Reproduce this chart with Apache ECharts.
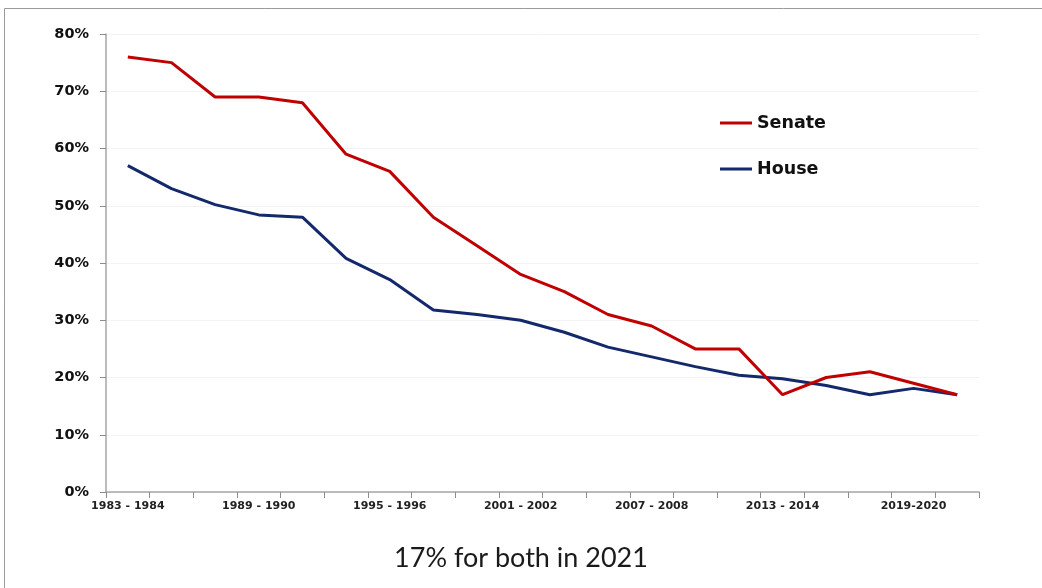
<!DOCTYPE html>
<html>
<head>
<meta charset="utf-8">
<title>Senate and House</title>
<script src="https://cdn.jsdelivr.net/npm/echarts@6/dist/echarts.min.js"></script>
<style>
  html, body { margin: 0; padding: 0; background: #fff; }
  #chart { width: 1042px; height: 588px; }
</style>
</head>
<body>
<div id="chart"></div>
<script>
// two-year congress sessions, 1983-1984 through 2021-2022
const sessions = [
  "1983 - 1984", "1985 - 1986", "1987 - 1988", "1989 - 1990", "1991 - 1992",
  "1993 - 1994", "1995 - 1996", "1997 - 1998", "1999 - 2000", "2001 - 2002",
  "2003 - 2004", "2005 - 2006", "2007 - 2008", "2009 - 2010", "2011 - 2012",
  "2013 - 2014", "2015 - 2016", "2017 - 2018", "2019-2020", "2021-2022",
];
const senate = [76, 75, 69, 69, 68, 59, 56, 48, 43, 38, 35, 31, 29, 25, 25, 17, 20, 21, 19, 17];
const house = [57, 53, 50.2, 48.4, 48, 40.8, 37.1, 31.8, 31, 30, 27.9, 25.3, 23.6, 21.9, 20.4, 19.8, 18.6, 17, 18.1, 17];
const yTicks = [0, 10, 20, 30, 40, 50, 60, 70, 80];
const subtitle = "17% for both in 2021";

const chart = echarts.init(document.getElementById("chart"));

const option = {
  backgroundColor: "#fff",
  animation: false,
  title: {
    text: subtitle,
    left: "center",
    top: 540,
    textStyle: {
      fontFamily: "Lato",
      fontSize: 27,
      fontWeight: "normal",
      color: "#1a1a1a",
    },
  },
  graphic: [
    {
      // frame of the slide, only top and left edges are on screen
      type: "rect",
      shape: { x: 4.5, y: 8.5, width: 1200, height: 800 },
      style: { fill: "none", stroke: "#9a9a9a", lineWidth: 1 },
      silent: true,
    },
  ],
  legend: {
    orient: "vertical",
    left: 720,
    top: 114,
    padding: 0,
    itemGap: 28,
    icon: "rect",
    itemWidth: 32,
    itemHeight: 3,
    textStyle: {
      fontFamily: "DejaVu Sans",
      fontWeight: "bold",
      fontSize: 17.5,
      lineHeight: 18,
      color: "#111",
    },
    data: ["Senate", "House"],
  },
  grid: {
    left: 106,
    right: 63,
    top: 34,
    bottom: 96,
  },
  xAxis: [
    {
      type: "category",
      data: sessions,
      boundaryGap: true,
      axisLine: { lineStyle: { color: "#a6a6a6", width: 1.5 } },
      axisTick: { show: false },
      axisLabel: {
        interval: 2,
        margin: 9,
        fontFamily: "DejaVu Sans",
        fontWeight: "bold",
        fontSize: 11,
        color: "#222",
      },
      splitLine: { show: false },
    },
    {
      // tick marks between every session
      type: "category",
      data: sessions,
      position: "bottom",
      boundaryGap: true,
      axisLine: { show: false },
      axisTick: {
        show: true,
        interval: 0,
        length: 6,
        lineStyle: { color: "#8c8c8c", width: 1 },
      },
      axisLabel: { show: false },
      splitLine: { show: false },
    },
  ],
  yAxis: {
    type: "value",
    min: yTicks[0],
    max: yTicks[yTicks.length - 1],
    interval: 10,
    axisLine: { show: true, lineStyle: { color: "#a6a6a6", width: 1.5 } },
    axisTick: { show: true, length: 6, lineStyle: { color: "#8c8c8c", width: 1 } },
    axisLabel: {
      margin: 17,
      fontFamily: "DejaVu Sans",
      fontWeight: "bold",
      fontSize: 14.5,
      color: "#111",
      formatter: (v) => v + "%",
    },
    splitLine: { show: true, lineStyle: { color: "#f3f3f3", width: 1 } },
  },
  series: [
    {
      name: "Senate",
      type: "line",
      data: senate,
      symbol: "none",
      color: "#c00000",
      lineStyle: { width: 3, color: "#c00000" },
      z: 3,
    },
    {
      name: "House",
      type: "line",
      data: house,
      symbol: "none",
      color: "#14296b",
      lineStyle: { width: 3, color: "#14296b" },
      z: 2,
    },
  ],
};

chart.setOption(option);
</script>
</body>
</html>
